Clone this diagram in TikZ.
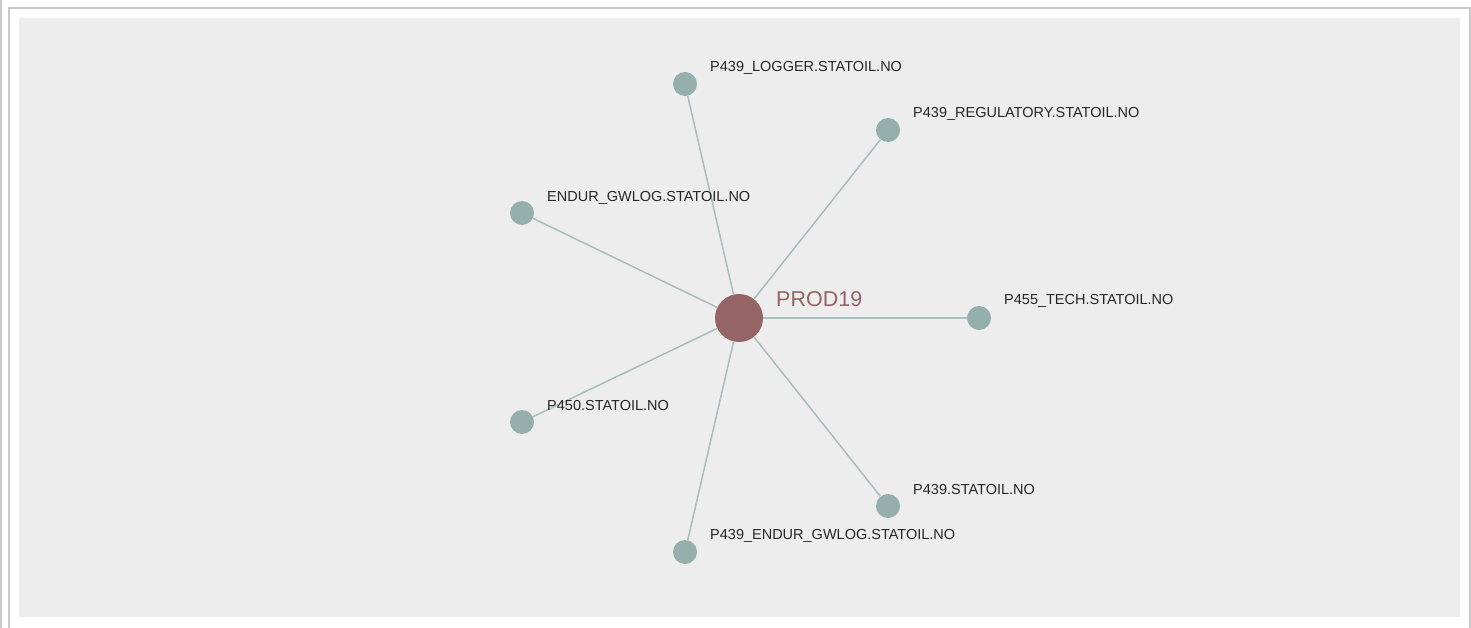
\documentclass[tikz,border=0pt]{standalone}
\usepackage{fontspec}
\setmainfont{Liberation Sans}
\usepackage{xcolor}
\usepackage{tikz}
\usetikzlibrary{positioning}

\definecolor{panelgray}{HTML}{EDEDED}
\definecolor{framegray}{HTML}{C9C9C9}
\definecolor{hostred}{HTML}{956464}
\definecolor{leafteal}{HTML}{95AFAD}
\definecolor{edgeteal}{HTML}{A9BEBC}
\definecolor{txtgray}{HTML}{262626}

\begin{document}
\begin{tikzpicture}[
          x=1pt, y=-1pt,
          hub/.style={circle, fill=hostred, minimum size=48pt, inner sep=0pt},
          leaf/.style={circle, fill=leafteal, minimum size=24pt, inner sep=0pt},
          lbl/.style={anchor=west, inner sep=0pt, text=txtgray, font=\fontsize{14.5}{17}\selectfont},
          hublbl/.style={anchor=west, inner sep=0pt, text=hostred, font=\fontsize{21.5}{25}\selectfont},
          link/.style={draw=edgeteal, line width=1.5pt}
        ]
          \useasboundingbox (0,0) rectangle (1471,628);
          % frame and panel
          \fill[white] (0,0) rectangle (1471,628);
          \draw[framegray, line width=2pt] (1,0) -- (1,628);
          \draw[framegray, line width=2pt] (9,628) -- (9,8) -- (1470,8) -- (1470,628);
          \fill[panelgray] (19,18) rectangle (1460,617);

          % nodes
          \node[hub] (prod) at (739,318) {};
          \node[leaf] (logger) at (685,84) {};
          \node[leaf] (regulatory) at (888,130) {};
          \node[leaf] (gwlog) at (522,213) {};
          \node[leaf] (tech) at (979,318) {};
          \node[leaf] (p450) at (522,422) {};
          \node[leaf] (p439) at (888,506) {};
          \node[leaf] (endurgw) at (685,552) {};

          % links
          \foreach \n in {logger, regulatory, gwlog, tech, p450, p439, endurgw}
            \draw[link] (prod) -- (\n);

          % labels
          \node[hublbl] (prodlbl) at (776,299) {PROD19};
          \node[lbl] (loggerlbl) at (710,68) {P439\_LOGGER.STATOIL.NO};
          \node[lbl] (regulatorylbl) at (913,114) {P439\_REGULATORY.STATOIL.NO};
          \node[lbl] (gwloglbl) at (547,198) {ENDUR\_GWLOG.STATOIL.NO};
          \node[lbl] (techlbl) at (1004,301) {P455\_TECH.STATOIL.NO};
          \node[lbl] (p450lbl) at (547,406) {P450.STATOIL.NO};
          \node[lbl] (p439lbl) at (913,490) {P439.STATOIL.NO};
          \node[lbl] (endurgwlbl) at (710,536) {P439\_ENDUR\_GWLOG.STATOIL.NO};
        \end{tikzpicture}
\end{document}
